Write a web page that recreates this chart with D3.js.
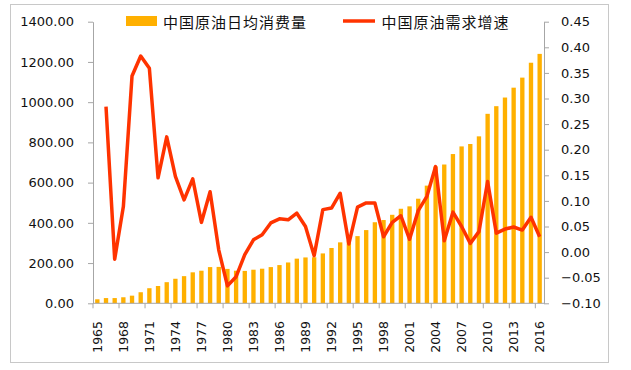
<!DOCTYPE html>
<html>
<head>
<meta charset="utf-8">
<script src="https://cdn.jsdelivr.net/npm/d3@7"></script>
<style>
body { margin: 0; background: #fff; }
</style>
</head>
<body>
<svg id="chart" width="631" height="370"></svg>
<script>
// categories
var years = [1965, 1966, 1967, 1968, 1969, 1970, 1971, 1972, 1973, 1974,
    1975, 1976, 1977, 1978, 1979, 1980, 1981, 1982, 1983, 1984,
    1985, 1986, 1987, 1988, 1989, 1990, 1991, 1992, 1993, 1994,
    1995, 1996, 1997, 1998, 1999, 2000, 2001, 2002, 2003, 2004,
    2005, 2006, 2007, 2008, 2009, 2010, 2011, 2012, 2013, 2014,
    2015, 2016];

// 中国原油日均消费量 (left axis)
var consumption = [20, 26, 26, 30, 38, 55, 75, 86, 105, 122,
    135, 154, 162, 180, 181, 171, 162, 161, 167, 172,
    180, 190, 203, 222, 228, 229, 248, 275, 303, 313,
    334, 364, 403, 414, 440, 470, 482, 520, 585, 680,
    690, 742, 780, 792, 830, 942, 980, 1023, 1072, 1122,
    1196, 1240];

// 中国原油需求增速 (right axis), no value for 1965
var growth = [null, 0.284, -0.014, 0.089, 0.344, 0.383, 0.359, 0.145, 0.225, 0.148,
    0.102, 0.143, 0.058, 0.118, 0.004, -0.066, -0.048, -0.005, 0.024, 0.034,
    0.057, 0.065, 0.063, 0.076, 0.050, -0.007, 0.083, 0.086, 0.115, 0.016,
    0.088, 0.096, 0.096, 0.030, 0.058, 0.071, 0.025, 0.081, 0.109, 0.167,
    0.022, 0.078, 0.050, 0.017, 0.040, 0.138, 0.037, 0.045, 0.049, 0.043,
    0.068, 0.030];

var leftTicks = [0, 200, 400, 600, 800, 1000, 1200, 1400];
var rightTicks = [-0.10, -0.05, 0.00, 0.05, 0.10, 0.15, 0.20, 0.25, 0.30, 0.35, 0.40, 0.45];

var barName = "中国原油日均消费量";
var lineName = "中国原油需求增速";

var barColor = "#ffb000";
var lineColor = "#ff3300";
var axisColor = "#a6a6a6";
var numFont = "'DejaVu Sans', sans-serif";
var cjkFont = "'Noto Sans CJK SC', sans-serif";

var plotLeft = 93, plotRight = 544, plotTop = 21.7, plotBottom = 303.3;

var svg = d3.select("#chart");

// outer frame
svg.append("rect")
    .attr("x", 10.5).attr("y", 4.5)
    .attr("width", 598).attr("height", 358)
    .attr("fill", "none")
    .attr("stroke", "#c8c8c8");

var xCat = d3.scaleBand().domain(years).range([plotLeft, plotRight]).padding(0);
var yLeft = d3.scaleLinear().domain([0, 1400]).range([plotBottom, plotTop]);
var yRight = d3.scaleLinear().domain([-0.10, 0.45]).range([plotBottom, plotTop]);
var step = xCat.bandwidth();

// bars
svg.append("g").selectAll("rect")
    .data(years)
    .enter().append("rect")
    .attr("x", function (d) { return xCat(d) + step * 0.25; })
    .attr("y", function (d, i) { return yLeft(consumption[i]); })
    .attr("width", step * 0.5)
    .attr("height", function (d, i) { return plotBottom - yLeft(consumption[i]); })
    .attr("fill", barColor);

// left axis
var gLeft = svg.append("g")
    .attr("transform", `translate(${plotLeft},0)`)
    .call(d3.axisLeft(yLeft).tickValues(leftTicks).tickSize(5).tickSizeOuter(0)
        .tickPadding(14).tickFormat(d3.format(".2f")));

// right axis
var gRight = svg.append("g")
    .attr("transform", `translate(${plotRight},0)`)
    .call(d3.axisRight(yRight).tickValues(rightTicks).tickSize(5).tickSizeOuter(0)
        .tickPadding(12).tickFormat(d3.format(".2f")));

[gLeft, gRight].forEach(function (g) {
    g.select(".domain").attr("stroke", axisColor);
    g.selectAll(".tick line").attr("stroke", axisColor);
    g.selectAll(".tick text")
        .attr("fill", "#111")
        .style("font-family", numFont)
        .style("font-size", "13px");
});

// bottom axis
var gBottom = svg.append("g");
gBottom.append("line")
    .attr("x1", plotLeft).attr("x2", plotRight)
    .attr("y1", plotBottom).attr("y2", plotBottom)
    .attr("stroke", axisColor);

var labelYears = years.filter(function (d, i) { return i % 3 == 0; });

gBottom.selectAll(".xtick")
    .data(labelYears)
    .enter().append("line")
    .attr("class", "xtick")
    .attr("x1", function (d) { return xCat(d); })
    .attr("x2", function (d) { return xCat(d); })
    .attr("y1", plotBottom)
    .attr("y2", plotBottom + 5)
    .attr("stroke", axisColor);

gBottom.selectAll(".xlabel")
    .data(labelYears)
    .enter().append("text")
    .attr("class", "xlabel")
    .attr("transform", function (d) { return `translate(${xCat(d) + step / 2},321) rotate(-90)`; })
    .attr("text-anchor", "end")
    .attr("dominant-baseline", "central")
    .attr("fill", "#111")
    .style("font-family", numFont)
    .style("font-size", "12.5px")
    .text(function (d) { return d; });

// growth line
var line = d3.line()
    .defined(function (d, i) { return growth[i] !== null; })
    .x(function (d) { return xCat(d) + step / 2; })
    .y(function (d, i) { return yRight(growth[i]); });

svg.append("path")
    .datum(years)
    .attr("d", line)
    .attr("fill", "none")
    .attr("stroke", lineColor)
    .attr("stroke-width", 3.5)
    .attr("stroke-linejoin", "round");

// legend
var legend = svg.append("g");
legend.append("rect")
    .attr("x", 126).attr("y", 16)
    .attr("width", 31).attr("height", 10)
    .attr("fill", barColor);
legend.append("text")
    .attr("x", 163).attr("y", 21.5)
    .attr("dominant-baseline", "central")
    .attr("fill", "#111")
    .style("font-family", cjkFont)
    .style("font-size", "15px")
    .style("letter-spacing", "1px")
    .text(barName);
legend.append("line")
    .attr("x1", 343).attr("x2", 375)
    .attr("y1", 21).attr("y2", 21)
    .attr("stroke", lineColor)
    .attr("stroke-width", 3.5);
legend.append("text")
    .attr("x", 381.5).attr("y", 21.5)
    .attr("dominant-baseline", "central")
    .attr("fill", "#111")
    .style("font-family", cjkFont)
    .style("font-size", "15px")
    .style("letter-spacing", "1px")
    .text(lineName);
</script>
</body>
</html>
